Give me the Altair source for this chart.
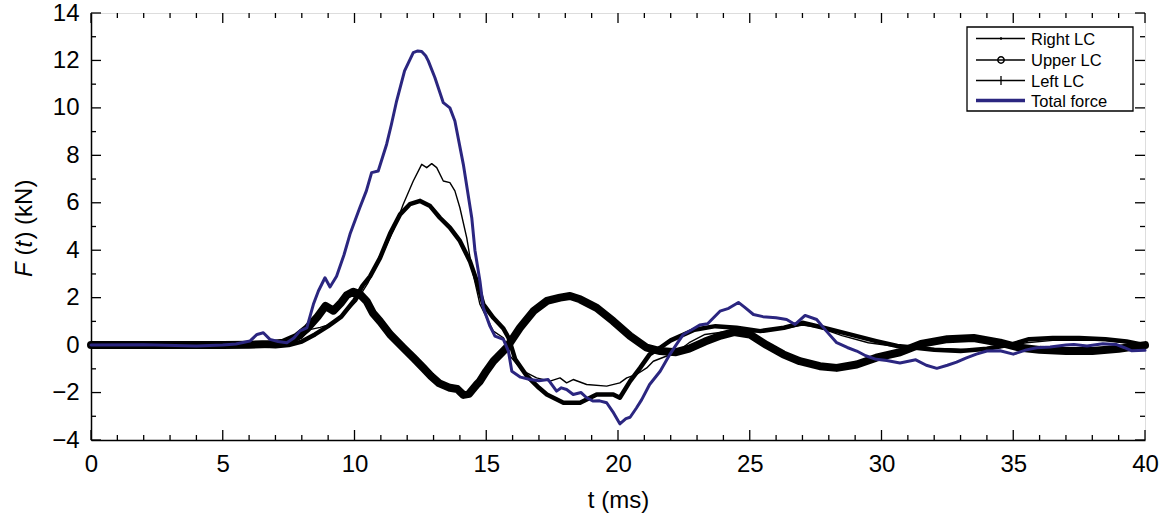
import altair as alt
import pandas as pd

W, H = 1054, 427

# ---- data ----
total_t = [0, 2, 4, 5, 5.5, 6.03, 6.3, 6.54, 6.79, 7.1, 7.43, 7.7, 7.93, 8.19, 8.44, 8.63, 8.88, 9.07, 9.32,
           9.6, 9.83, 10.2, 10.45, 10.65, 10.9, 11.22, 11.4, 11.6, 11.9, 12.23, 12.4, 12.55, 12.7, 12.8, 13.05,
           13.37, 13.62, 13.81, 14.13, 14.45, 14.57, 14.76, 14.89, 15.14, 15.33, 15.65, 15.84, 15.97, 16.3,
           16.66, 17.0, 17.35, 17.67, 17.85, 18.05, 18.3, 18.6, 18.81, 19.06, 19.3, 19.57, 19.8, 20.07, 20.3,
           20.46, 20.7, 20.9, 21.2, 21.6, 21.97, 22.2, 22.48, 22.8, 23.1, 23.4, 23.87, 24.2, 24.57, 24.8,
           25.14, 25.5, 26.0, 26.4, 26.72, 27.1, 27.54, 27.9, 28.3, 28.7, 29.06, 29.4, 29.8, 30.2, 30.7, 31.3,
           31.7, 32.1, 32.5, 32.85, 33.2, 33.6, 34.0, 34.5, 35.0, 35.5, 35.9, 36.4, 37.0, 37.3, 37.8, 38.4,
           38.9, 39.2, 39.5, 40]
total_f = [0, 0.02, -0.04, 0.0, 0.05, 0.17, 0.45, 0.52, 0.24, 0.15, 0.1, 0.3, 0.6, 0.73, 1.72, 2.28, 2.84, 2.45,
           2.9, 3.8, 4.68, 5.79, 6.5, 7.27, 7.34, 8.47, 9.3, 10.3, 11.56, 12.33, 12.4, 12.38, 12.2, 11.98, 11.28,
           10.22, 10.0, 9.45, 7.62, 5.37, 4.0, 2.7, 1.57, 0.8, 0.38, 0.24, -0.25, -1.1, -1.35,
           -1.45, -1.5, -1.45, -1.94, -1.8, -1.87, -2.08, -2.0, -2.22, -2.36, -2.35, -2.43, -2.8, -3.32, -3.1,
           -3.04, -2.65, -2.3, -1.66, -1.1, -0.39, 0.0, 0.45, 0.65, 0.85, 0.9, 1.43, 1.55, 1.8, 1.6,
           1.29, 1.2, 1.15, 1.08, 0.87, 1.25, 1.08, 0.6, 0.1, -0.1, -0.25, -0.45, -0.6, -0.65, -0.75, -0.62,
           -0.85, -0.98, -0.85, -0.72, -0.55, -0.38, -0.25, -0.24, -0.38, -0.2, -0.11, -0.08, 0.0, 0.03, -0.04, 0.06,
           0.03, -0.1, -0.24, -0.22]

upper_t = [0, 3, 5, 6, 6.8, 7.3, 7.8, 8.2, 8.6, 8.9, 9.2, 9.5, 9.7, 9.95, 10.2, 10.46, 10.7, 10.97, 11.35,
           11.85, 12.23, 12.6, 12.9, 13.2, 13.62, 13.9, 14.13, 14.35, 14.64, 14.76, 15.0, 15.27, 15.78, 16.28,
           16.79, 17.3, 17.8, 18.18, 18.56, 19.19, 19.82, 20.46, 21.09, 21.6, 22.2, 22.7, 23.3, 23.9, 24.4,
           25.0, 25.64, 26.27, 26.9, 27.66, 28.3, 29.06, 29.8, 30.7, 31.5, 32.5, 33.5, 34.5, 35.2, 36.0,
           37.0, 38.0, 39.0, 40]
upper_f = [0, 0, 0, 0.02, 0.05, 0.1, 0.35, 0.7, 1.2, 1.65, 1.45, 1.8, 2.1, 2.25, 2.15, 1.85, 1.35, 1.0, 0.45,
           -0.11, -0.53, -0.95, -1.3, -1.6, -1.8, -1.85, -2.1, -2.05, -1.66, -1.52, -1.1, -0.68, -0.1, 0.73,
           1.43, 1.86, 2.0, 2.07, 1.93, 1.57, 1.01, 0.38, -0.11, -0.25, -0.3, -0.15, 0.15, 0.4, 0.55,
           0.45, 0.0, -0.39, -0.68, -0.89, -0.96, -0.82, -0.53, -0.3, 0.05, 0.25, 0.3, 0.1, -0.1, -0.2,
           -0.25, -0.25, -0.15, 0]

left_t = [0, 5, 6, 7, 7.5, 8.0, 8.5, 9.0, 9.5, 10.0, 10.3, 10.59, 10.97, 11.35, 11.73, 12.1, 12.49, 12.87,
          13.24, 13.62, 14.0, 14.38, 14.64, 14.89, 15.27, 15.65, 15.85, 16.1, 16.54, 17.0, 17.3, 17.93, 18.56,
          19.19, 19.82, 20.07, 20.46, 20.84, 21.2, 21.6, 22.0, 22.9, 23.7, 24.5, 25.4, 26.3, 27.0, 27.8,
          28.8, 29.8, 30.6, 31.2, 32.0, 33.0, 34.0, 35.0, 35.6, 36.5, 37.5, 38.5, 39.3, 40]
left_f = [0, -0.03, 0, -0.05, 0.0, 0.15, 0.45, 0.8, 1.2, 1.9, 2.5, 2.9, 3.68, 4.7, 5.51, 5.94, 6.08, 5.86,
          5.37, 4.95, 4.39, 3.54, 2.7, 1.72, 1.15, 0.7, 0.3, -0.6, -1.3, -1.8, -2.08, -2.43, -2.43,
          -2.08, -2.08, -2.22, -1.52, -0.96, -0.39, -0.11, 0.2, 0.65, 0.8, 0.73, 0.59, 0.73, 0.94, 0.73,
          0.45, 0.17, -0.04, -0.1, -0.2, -0.25, -0.15, 0.05, 0.25, 0.3, 0.3, 0.25, 0.15, 0]

right_t = [0, 5, 6, 7, 7.5, 8.0, 8.3, 8.7, 9.0, 9.32, 9.7, 10.08, 10.5, 11.0, 11.5, 11.85, 12.23, 12.55, 12.74,
           12.93, 13.12, 13.37, 13.62, 13.81, 14.0, 14.26, 14.45, 14.76, 15.27, 15.65, 15.82, 15.9, 16.41,
           16.91, 17.42, 17.8, 18.05, 18.3, 18.81, 19.57, 20.07, 20.33, 20.7, 21.09, 21.34, 21.85, 22.2,
           22.7, 23.3, 24.0, 24.8, 25.5, 26.3, 27.0, 27.6, 28.5, 29.5, 30.5, 31.5, 32.5, 33.5, 34.5, 35.5,
           36.5, 37.5, 38.5, 39.3, 40]
right_f = [0, 0, 0.02, 0, 0.05, 0.3, 0.65, 0.75, 0.85, 1.0, 1.43, 1.86, 2.6, 3.7, 4.9, 5.94, 6.92, 7.62, 7.48,
           7.65, 7.48, 6.92, 6.85, 6.5, 5.79, 4.52, 3.26, 1.72, 0.59, 0.31, -0.11, -0.46, -1.1,
           -1.38, -1.52, -1.38, -1.59, -1.45, -1.66, -1.73, -1.59, -1.38, -1.24, -0.96, -0.68, -0.46, -0.32,
           0.1, 0.45, 0.55, 0.5, 0.6, 0.7, 0.85, 0.75, 0.4, 0.1, -0.05, -0.15, -0.15, -0.2, -0.1, 0.1,
           0.2, 0.2, 0.2, 0.1, 0]

x_major = [0, 5, 10, 15, 20, 25, 30, 35, 40]
x_minor = [v for v in range(0, 41) if v % 5 != 0]
y_major = [-4, -2, 0, 2, 4, 6, 8, 10, 12, 14]
y_minor = [-3, -1, 1, 3, 5, 7, 9, 11, 13]

legend_labels = ["Right LC", "Upper LC", "Left LC", "Total force"]

BLUE = "#2b2680"
FONT = "Liberation Sans"

xs = alt.Scale(domain=[0, 40], nice=False, zero=False)
ys = alt.Scale(domain=[-4, 14], nice=False, zero=False)

x_axis = alt.Axis(values=x_major, ticks=False, grid=False, labelFontSize=24, labelFont=FONT,
                  labelColor="black", labelPadding=12, labelFlush=False, labelOverlap=False,
                  domainColor="black", domainWidth=1.5,
                  title="t (ms)", titleFontSize=24, titleFont=FONT, titleFontWeight="normal",
                  titleColor="black", titlePadding=12)
y_axis = alt.Axis(values=y_major, ticks=False, grid=False, labelFontSize=24, labelFont=FONT,
                  labelColor="black", labelPadding=12, labelFlush=False, labelOverlap=False,
                  domainColor="black", domainWidth=1.5, title=None)

X = lambda f: alt.X(f, scale=xs, axis=x_axis)
Y = lambda f: alt.Y(f, scale=ys, axis=y_axis)


def series(t, f, color, width):
    return alt.Chart(pd.DataFrame({"t": t, "F": f})).mark_line(
        color=color, strokeWidth=width, strokeJoin="round", strokeCap="round"
    ).encode(x=X("t:Q"), y=Y("F:Q"))


layers = []
# inward ticks on all four sides
for vals, ln in ((x_major, 10), (x_minor, 5)):
    d = pd.DataFrame({"t": vals})
    layers.append(alt.Chart(d).mark_rule(color="black", strokeWidth=1.3).encode(
        x=X("t:Q"), y=alt.value(H), y2=alt.value(H - ln)))
    layers.append(alt.Chart(d).mark_rule(color="black", strokeWidth=1.3).encode(
        x=X("t:Q"), y=alt.value(0), y2=alt.value(ln)))
for vals, ln in ((y_major, 10), (y_minor, 5)):
    d = pd.DataFrame({"F": vals})
    layers.append(alt.Chart(d).mark_rule(color="black", strokeWidth=1.3).encode(
        y=Y("F:Q"), x=alt.value(0), x2=alt.value(ln)))
    layers.append(alt.Chart(d).mark_rule(color="black", strokeWidth=1.3).encode(
        y=Y("F:Q"), x=alt.value(W), x2=alt.value(W - ln)))

layers.append(series(upper_t, upper_f, "black", 8))
layers.append(series(left_t, left_f, "black", 4.5))
layers.append(series(right_t, right_f, "black", 1.4))
layers.append(series(total_t, total_f, BLUE, 3))

# legend box
one = pd.DataFrame({"k": [0]})
layers.append(alt.Chart(one).mark_rect(fill="white", stroke="black", strokeWidth=1.3).encode(
    x=alt.value(876), x2=alt.value(1042), y=alt.value(14), y2=alt.value(98)))
ly = [25.5, 47, 67.5, 87.5]
for i, lab in enumerate(legend_labels):
    d = pd.DataFrame({"label": [lab]})
    col = BLUE if i == 3 else "black"
    sw = 3.5 if i == 3 else 1.5
    layers.append(alt.Chart(d).mark_rule(color=col, strokeWidth=sw).encode(
        x=alt.value(885), x2=alt.value(934), y=alt.value(ly[i])))
    layers.append(alt.Chart(d).mark_text(align="left", baseline="middle", fontSize=16.5, font=FONT,
                                         color="black").encode(
        x=alt.value(940), y=alt.value(ly[i] + 1), text="label:N"))
# legend markers
layers.append(alt.Chart(one).mark_rule(color="black", strokeWidth=1.3).encode(
    x=alt.value(910), y=alt.value(ly[0] - 1.5), y2=alt.value(ly[0] + 1.5)))
layers.append(alt.Chart(one).mark_point(shape="circle", size=40, filled=False, color="black",
                                        strokeWidth=1.5, opacity=1).encode(
    x=alt.value(910), y=alt.value(ly[1])))
layers.append(alt.Chart(one).mark_rule(color="black", strokeWidth=1.3).encode(
    x=alt.value(910), y=alt.value(ly[2] - 4.5), y2=alt.value(ly[2] + 4.5)))

# y-axis title with italic parts: "F (t) (kN)"
title_parts = [("F", "italic", 264), ("(", "normal", 242.6), ("t", "italic", 234.6), (") (kN)", "normal", 226.6)]
for txt, style, yy in title_parts:
    d = pd.DataFrame({"s": [txt]})
    layers.append(alt.Chart(d).mark_text(angle=270, align="left", baseline="middle", fontSize=24, font=FONT,
                                         fontStyle=style, color="black").encode(
        x=alt.value(-66), y=alt.value(yy), text="s:N"))

chart = alt.layer(*layers).properties(
    width=W, height=H,
    padding={"left": 91, "top": 13, "right": 20, "bottom": 87},
    autosize=alt.AutoSizeParams(type="none"),
).configure_view(stroke="black", strokeWidth=1.5).configure(background="white")

chart.save("out.html", embed_options={"renderer": "svg", "actions": False})
